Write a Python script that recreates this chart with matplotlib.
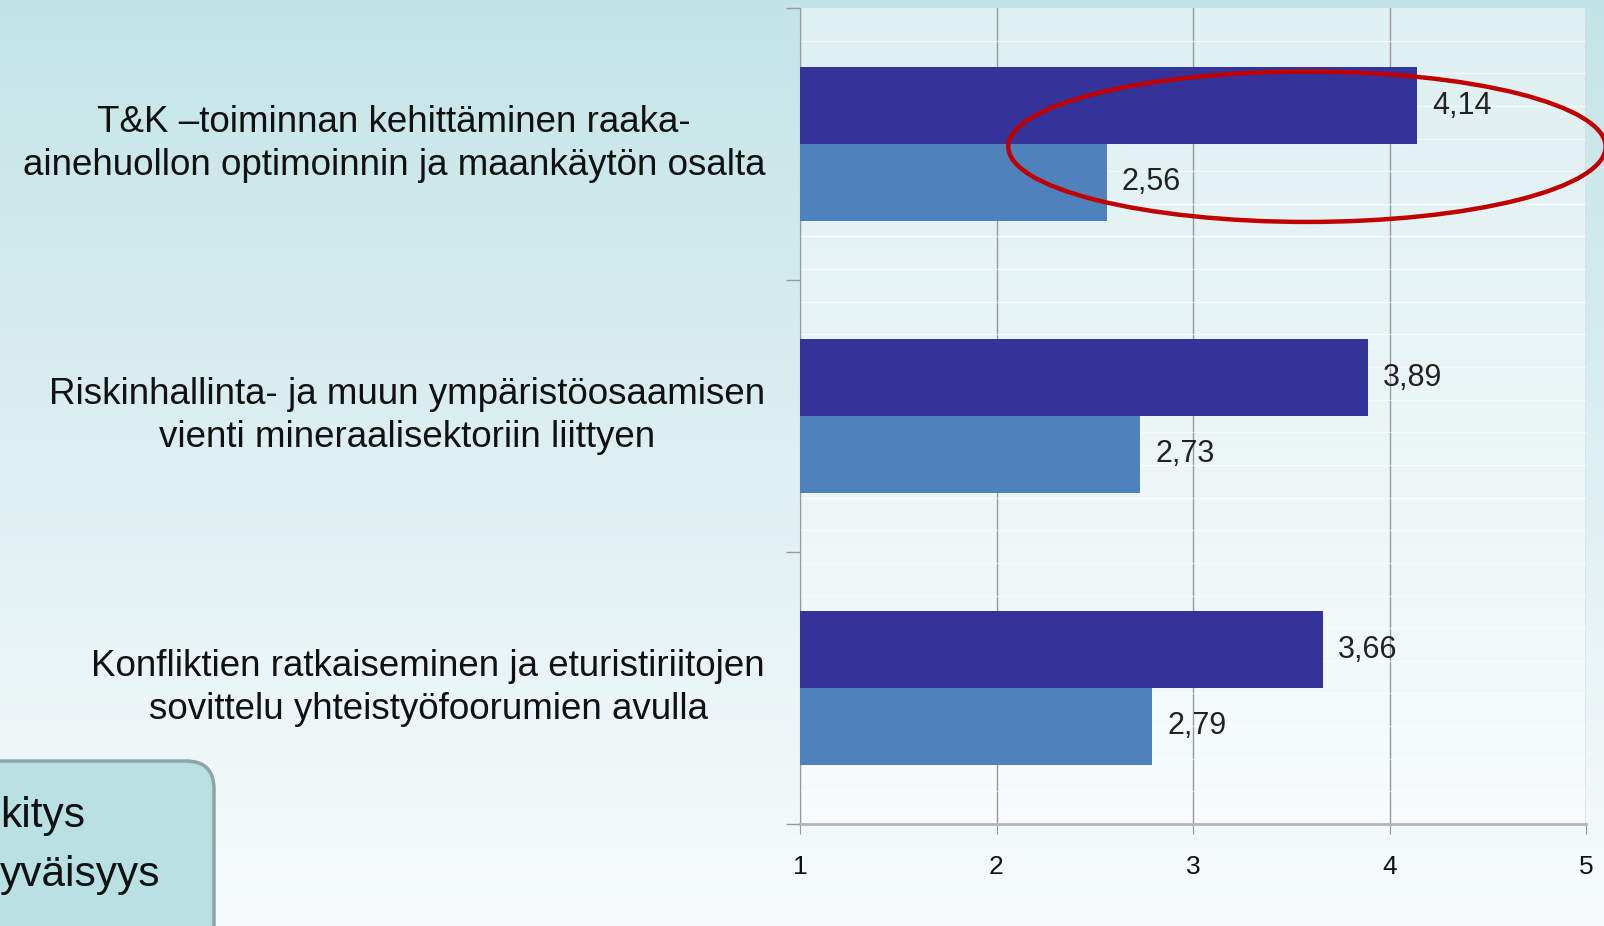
import numpy as np
import matplotlib
matplotlib.use("Agg")
import matplotlib.pyplot as plt
from matplotlib.patches import Ellipse, FancyBboxPatch

plt.rcParams['font.family'] = ['Liberation Sans', 'DejaVu Sans']

# data
categories = [
    "T&K \u2013toiminnan kehitt\u00e4minen raaka-\nainehuollon optimoinnin ja maank\u00e4yt\u00f6n osalta",
    "Riskinhallinta- ja muun ymp\u00e4rist\u00f6osaamisen\nvienti mineraalisektoriin liittyen",
    "Konfliktien ratkaiseminen ja eturistiriitojen\nsovittelu yhteisty\u00f6foorumien avulla",
]
merkitys = [4.14, 3.89, 3.66]
tyytyvaisyys = [2.56, 2.73, 2.79]
legend_texts = ["kitys", "yv\u00e4isyys"]
xticks = [1, 2, 3, 4, 5]

dark = "#333399"
light = "#4f81bd"

fig = plt.figure(figsize=(16.04, 9.26), dpi=100)

# background gradient over the whole figure (pixel coords)
bg = fig.add_axes([0, 0, 1, 1], zorder=0)
top = np.array([195, 228, 231]) / 255
bot = np.array([248, 251, 252]) / 255
t = np.linspace(0, 1, 256)[:, None]
grad = top[None, :] * (1 - t) + bot[None, :] * t
bg.imshow(grad[:, None, :], aspect='auto', extent=[0, 1604, 926, 0])
bg.set_xlim(0, 1604)
bg.set_ylim(926, 0)
bg.axis('off')

# legend box remnant in the lower left corner
box = FancyBboxPatch((-60, 761), 274, 220, boxstyle="round,pad=0,rounding_size=28",
                     facecolor="#b9e0e3", edgecolor="#8ea5a7", linewidth=2.5)
bg.add_patch(box)
bg.text(0, 816, legend_texts[0], fontsize=30.5, va='center', ha='left', color='#111111')
bg.text(0, 875, legend_texts[1], fontsize=30.5, va='center', ha='left', color='#111111')

# main chart
ax = fig.add_axes([800 / 1604, (926 - 824) / 926, 786 / 1604, 816 / 926], zorder=1)
ax.set_facecolor((1, 1, 1, 0.45))

y = np.arange(len(categories))
h = 0.282
m = np.array(merkitys)
s = np.array(tyytyvaisyys)
ax.barh(y - h / 2, m - 1, left=1, height=h, color=dark, zorder=3)
ax.barh(y + h / 2, s - 1, left=1, height=h, color=light, zorder=3)

for yi, v in zip(y - h / 2, m):
    ax.annotate(f"{v:.2f}".replace('.', ','), (v, yi), xytext=(11, 0),
                textcoords='offset points', va='center', ha='left',
                fontsize=22, color='#222222', zorder=4)
for yi, v in zip(y + h / 2, s):
    ax.annotate(f"{v:.2f}".replace('.', ','), (v, yi), xytext=(11, 0),
                textcoords='offset points', va='center', ha='left',
                fontsize=22, color='#222222', zorder=4)

ax.set_xlim(1, 5)
ax.set_ylim(len(categories) - 0.5, -0.5)
ax.set_xticks(xticks)
ax.set_xticklabels([str(v) for v in xticks], fontsize=19, color='#111111')
ax.tick_params(axis='x', length=7, color='#999999', pad=15)

# y ticks at category borders, labels placed separately
ax.set_yticks(np.arange(len(categories) + 1) - 0.5)
ax.set_yticklabels([])
ax.tick_params(axis='y', length=10, color='#999999', width=1)

ax.set_yticks(np.linspace(-0.5, len(categories) - 0.5, 26), minor=True)
ax.tick_params(axis='y', which='minor', length=0)
ax.grid(axis='y', which='minor', color='white', linewidth=1, alpha=0.6, zorder=1)
ax.grid(axis='x', color='#999999', linewidth=1, zorder=2)

for side in ['top', 'right']:
    ax.spines[side].set_visible(False)
ax.spines['left'].set_color('#999999')
ax.spines['bottom'].set_color('#b5b5b5')
ax.spines['bottom'].set_linewidth(2)

for yi, label in zip(y, categories):
    ax.text(-0.0445, yi, label, transform=ax.get_yaxis_transform(), ha='right', va='center',
            multialignment='center', fontsize=26.5, color='#111111', linespacing=1.3)

# red highlight ellipse
ell = Ellipse((3.58, 0.01), 3.04, 0.553, fill=False, edgecolor='#c00000',
              linewidth=3.2, clip_on=False, zorder=5)
ax.add_patch(ell)

fig.savefig("out.png", dpi=100)
